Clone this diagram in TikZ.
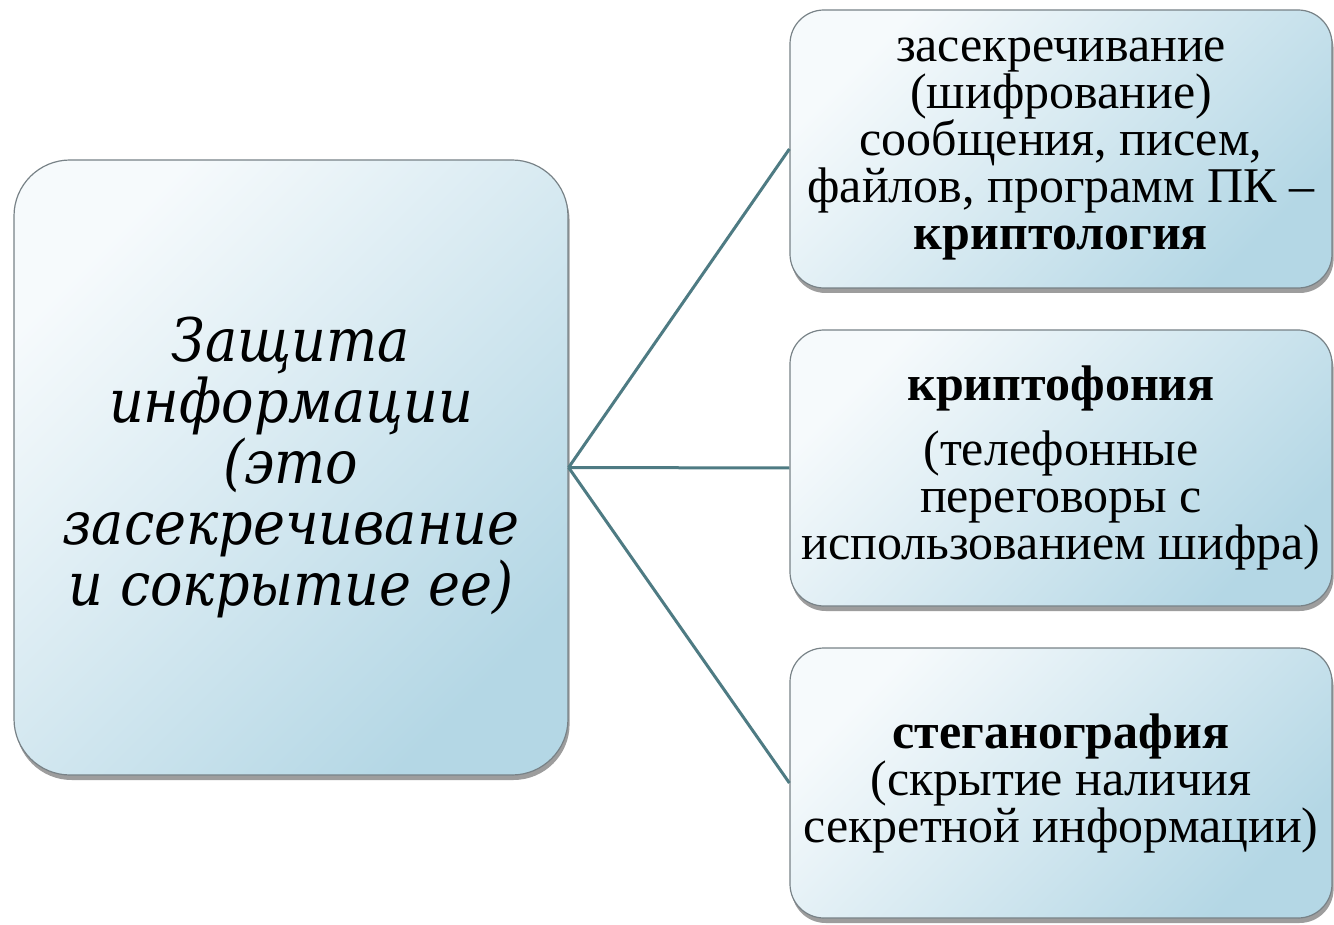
\documentclass[tikz,border=0pt]{standalone}
\usepackage{fontspec}
\setmainfont{Liberation Serif}
\newfontfamily\leftfont[FakeStretch=0.9]{DejaVu Serif}
\newfontfamily\rightfont{Liberation Serif}
\usetikzlibrary{shadows}
\newcommand\mytightlines{\lineskiplimit=-40pt\relax\lineskip=0pt\relax}
\definecolor{boxtop}{RGB}{246,250,252}
\definecolor{boxbot}{RGB}{180,215,229}
\definecolor{boxline}{RGB}{120,130,135}
\definecolor{conn}{RGB}{78,123,131}
\tikzset{
  box/.style={draw=boxline, line width=0.6pt, top color=boxtop, bottom color=boxbot, shading angle=45,
    drop shadow={shadow xshift=0.8pt, shadow yshift=-2.5pt, opacity=0.55, fill=black!70},
    align=center, inner sep=0pt},
  bigbox/.style={box, rounded corners=28pt, minimum width=277pt, minimum height=307.5pt,
    font=\leftfont\itshape\fontsize{30}{30.5}\selectfont},
  smallbox/.style={box, rounded corners=17pt, minimum width=271pt, minimum height=137pt,
    font=\rightfont\fontsize{25}{23.5}\selectfont\mytightlines},
  link/.style={draw=conn, line width=1.5pt}
}
\begin{document}
\begin{tikzpicture}[x=0.5pt, y=-0.5pt]
\useasboundingbox (0,0) rectangle (1334,925);
\node[bigbox] (L) at (291,467.5) {Защита\\информации\\(это\\засекречивание\\и сокрытие ее)};
\node[smallbox, minimum height=139pt] (B1) at (1061,149) {засекречивание\\(шифрование)\\сообщения, писем,\\файлов, программ ПК –\\\textbf{криптология}};
\node[smallbox, minimum height=138pt] (B2) at (1061,468) {\textbf{криптофония}\\[9pt](телефонные\\переговоры с\\использованием шифра)};
\node[smallbox, minimum height=135pt] (B3) at (1061,783) {\textbf{стеганография}\\(скрытие наличия\\секретной информации)};
\draw[link] (L.east) -- (B1.west);
\draw[link] (L.east) -- (B2.west);
\draw[link] (L.east) -- (B3.west);
\end{tikzpicture}
\end{document}
